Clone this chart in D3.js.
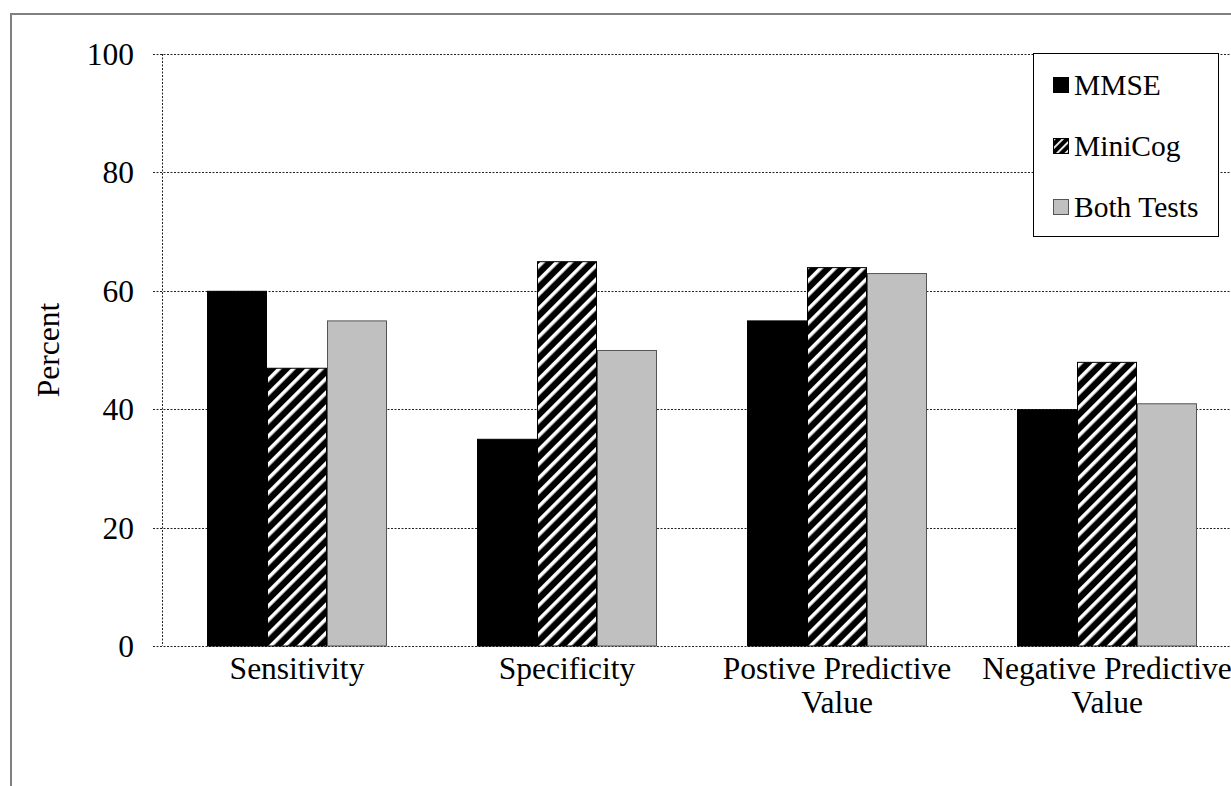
<!DOCTYPE html>
<html>
<head>
<meta charset="utf-8">
<script src="https://cdn.jsdelivr.net/npm/d3@7"></script>
<style>
  html, body { margin: 0; padding: 0; background: #fff; }
  svg { display: block; }
</style>
</head>
<body>
<svg id="chart" width="1231" height="786"></svg>
<script>
const categories = [["Sensitivity"], ["Specificity"], ["Postive Predictive", "Value"], ["Negative Predictive", "Value"]];
const seriesNames = ["MMSE", "MiniCog", "Both Tests"];
const mmse = [60, 35, 55, 40];
const minicog = [47, 65, 64, 48];
const both = [55, 50, 63, 41];
const yTicks = [0, 20, 40, 60, 80, 100];
const yLabel = "Percent";

const seriesValues = [mmse, minicog, both];
const svg = d3.select("#chart")
  .attr("font-family", "'Liberation Serif', 'Times New Roman', Times, 'DejaVu Serif', serif");
const W = 1231, H = 786;
const fontSize = 31.5;
const legFont = 29.5;

// outer frame
svg.append("rect").attr("x", 11).attr("y", 14).attr("width", 1300).attr("height", 900)
  .attr("fill", "none").attr("stroke", "#808080").attr("stroke-width", 2);

// pattern
const defs = svg.append("defs");
const pat = defs.append("pattern").attr("id", "hatch").attr("patternUnits", "userSpaceOnUse")
  .attr("width", 10).attr("height", 10).attr("patternTransform", "rotate(45)");
pat.append("rect").attr("width", 10).attr("height", 10).attr("fill", "#000");
pat.append("rect").attr("x", 0).attr("width", 3.6).attr("height", 10).attr("fill", "#fff");

const patS = defs.append("pattern").attr("id", "hatchSmall").attr("patternUnits", "userSpaceOnUse")
  .attr("width", 6).attr("height", 6).attr("patternTransform", "rotate(45)");
patS.append("rect").attr("width", 6).attr("height", 6).attr("fill", "#000");
patS.append("rect").attr("x", 0).attr("width", 1.8).attr("height", 6).attr("fill", "#fff");

const fills = ["#000", "url(#hatch)", "#c0c0c0"];
const strokes = ["#000", "#000", "#555"];

const plotL = 162, plotR = 1242, plotT = 54, plotB = 646;
const x0 = d3.scaleBand().domain(d3.range(categories.length)).range([plotL, plotR])
  .paddingInner(1/3).paddingOuter(1/6);
const x1 = d3.scaleBand().domain(d3.range(seriesNames.length)).range([0, x0.bandwidth()]);
const y = d3.scaleLinear().domain([0, 100]).range([plotB, plotT]);

// gridlines
svg.append("g").selectAll("line").data(yTicks).join("line")
  .attr("x1", 153).attr("x2", W).attr("y1", d => Math.round(y(d)) + 0.5).attr("y2", d => Math.round(y(d)) + 0.5)
  .attr("stroke", "#222").attr("stroke-width", 1).attr("stroke-dasharray", "2,1.5");

// y axis line
svg.append("line").attr("x1", plotL + 0.5).attr("x2", plotL + 0.5).attr("y1", plotT).attr("y2", plotB)
  .attr("stroke", "#222").attr("stroke-width", 1).attr("stroke-dasharray", "2,1.5");

// y tick labels
svg.append("g").selectAll("text").data(yTicks).join("text")
  .attr("x", 134).attr("y", d => y(d)).attr("dy", "0.35em").attr("text-anchor", "end")
  .attr("font-size", fontSize).attr("fill", "#000").text(d => d);

// y label
svg.append("text").attr("transform", `translate(59,350) rotate(-90)`)
  .attr("text-anchor", "middle").attr("font-size", fontSize).attr("fill", "#000").text(yLabel);

// bars
const groups = svg.append("g").selectAll("g").data(categories).join("g")
  .attr("transform", (d, i) => `translate(${x0(i)},0)`);
groups.selectAll("rect").data((d, i) => seriesValues.map((s, k) => ({k, v: s[i]}))).join("rect")
  .attr("x", d => x1(d.k) + 0.5).attr("width", x1.bandwidth() - 1)
  .attr("y", d => y(d.v) + 0.5).attr("height", d => y(0) - y(d.v) - 0.5)
  .attr("fill", d => fills[d.k]).attr("stroke", d => strokes[d.k]).attr("stroke-width", 1);

// category labels
const catG = svg.append("g").selectAll("text").data(categories).join("text")
  .attr("text-anchor", "middle").attr("font-size", fontSize).attr("fill", "#000")
  .attr("transform", (d, i) => `translate(${x0(i) + x0.bandwidth() / 2},679)`);
catG.selectAll("tspan").data(d => d).join("tspan")
  .attr("x", 0).attr("y", (d, j) => j * 34).text(d => d);

// legend
const lg = svg.append("g");
lg.append("rect").attr("x", 1033.5).attr("y", 53.5).attr("width", 185).attr("height", 183)
  .attr("fill", "#fff").attr("stroke", "#000").attr("stroke-width", 1);
const legFills = ["#000", "url(#hatchSmall)", "#c0c0c0"];
const legItems = lg.selectAll("g").data(seriesNames).join("g")
  .attr("transform", (d, i) => `translate(1053, ${95 + i * 61})`);
legItems.append("rect").attr("x", 0.5).attr("y", -17.5).attr("width", 15).attr("height", 15)
  .attr("fill", (d, i) => legFills[i]).attr("stroke", (d, i) => strokes[i]).attr("stroke-width", 1);
legItems.append("text").attr("x", 21).attr("y", 0).attr("font-size", legFont).attr("fill", "#000").text(d => d);
</script>
</body>
</html>
